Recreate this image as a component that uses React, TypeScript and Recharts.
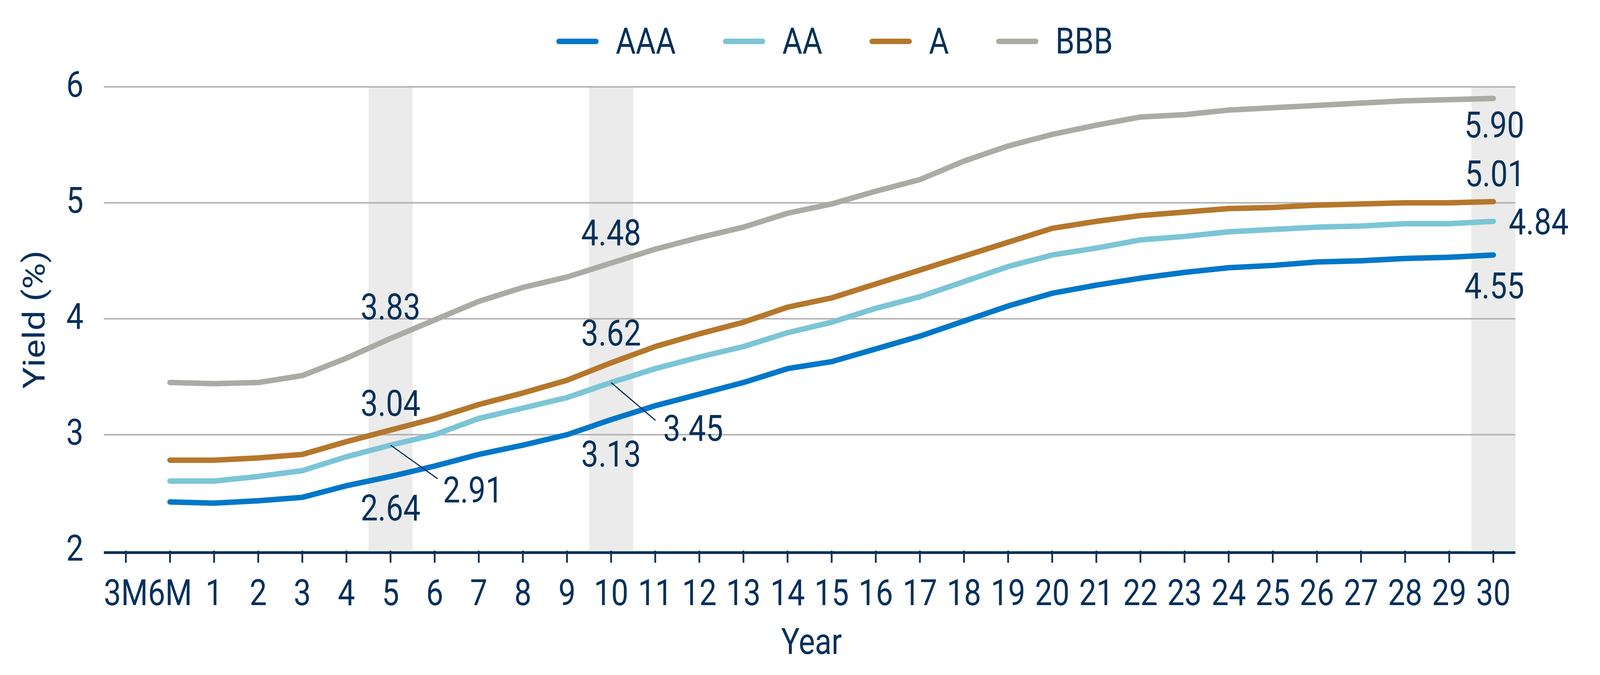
import React from 'react';
import {
  ComposedChart,
  Line,
  Bar,
  XAxis,
  YAxis,
  ReferenceLine,
  Legend,
  LabelList,
} from 'recharts';

// ---------- data ----------
const categories = ['3M', '6M', '1', '2', '3', '4', '5', '6', '7', '8', '9', '10', '11', '12', '13', '14', '15', '16', '17', '18', '19', '20', '21', '22', '23', '24', '25', '26', '27', '28', '29', '30'];

const aaa = [null, 2.42, 2.41, 2.43, 2.46, 2.56, 2.64, 2.73, 2.83, 2.91, 3.0, 3.13, 3.25, 3.35, 3.45, 3.57, 3.63, 3.74, 3.85, 3.98, 4.11, 4.22, 4.29, 4.35, 4.4, 4.44, 4.46, 4.49, 4.5, 4.52, 4.53, 4.55];
const aa = [null, 2.6, 2.6, 2.64, 2.69, 2.81, 2.91, 3.0, 3.14, 3.23, 3.32, 3.45, 3.57, 3.67, 3.76, 3.88, 3.97, 4.09, 4.19, 4.32, 4.45, 4.55, 4.61, 4.68, 4.71, 4.75, 4.77, 4.79, 4.8, 4.82, 4.82, 4.84];
const a = [null, 2.78, 2.78, 2.8, 2.83, 2.94, 3.04, 3.14, 3.26, 3.36, 3.47, 3.62, 3.76, 3.87, 3.97, 4.1, 4.18, 4.3, 4.42, 4.54, 4.66, 4.78, 4.84, 4.89, 4.92, 4.95, 4.96, 4.98, 4.99, 5.0, 5.0, 5.01];
const bbb = [null, 3.45, 3.44, 3.45, 3.51, 3.66, 3.83, 3.99, 4.15, 4.27, 4.36, 4.48, 4.6, 4.7, 4.79, 4.91, 4.99, 5.1, 5.2, 5.36, 5.49, 5.59, 5.67, 5.74, 5.76, 5.8, 5.82, 5.84, 5.86, 5.88, 5.89, 5.9];

const highlightedYears = ['5', '10', '30'];
const yTicks = [2, 3, 4, 5, 6];
const gridValues = [3, 4, 5, 6];
const yDomain: [number, number] = [2, 6];

const seriesNames = ['AAA', 'AA', 'A', 'BBB'];
const seriesValues = [aaa, aa, a, bbb];

// ---------- styles ----------
const NAVY = '#06305a';
const FONT = 'Roboto, "Noto Sans", sans-serif';
const FS = 92;
const SX = 4096 / 4792; // horizontal compression so the 4792-wide design fits the 4096 viewport
const colors: Record<string, string> = {
  AAA: '#0077c8',
  AA: '#7bc5d6',
  A: '#b5772b',
  BBB: '#aaaba4',
};

const data = categories.map((cat, i) => {
  const row: Record<string, any> = { cat };
  seriesNames.forEach((name, s) => {
    row[name] = seriesValues[s][i];
  });
  row.shade = highlightedYears.includes(cat) ? yDomain[1] : null;
  return row;
});

let measureCtx: CanvasRenderingContext2D | null = null;
const measureText = (t: string) => {
  try {
    if (!measureCtx) measureCtx = document.createElement('canvas').getContext('2d');
    if (measureCtx) {
      measureCtx.font = `${FS}px Roboto`;
      return measureCtx.measureText(t).width;
    }
  } catch (e) {
    /* ignore */
  }
  return t.length * 58;
};

// horizontally-condensed svg text
const SText = ({ x, y, anchor = 'middle', children }: any) => (
  <text
    transform={`translate(${x} ${y}) scale(${SX} 1)`}
    x={0}
    y={0}
    textAnchor={anchor}
    fill={NAVY}
    fontSize={FS}
    fontFamily={FONT}
  >
    {children}
  </text>
);

// label placement relative to the data point (reference px)
type LabelCfg = { dx: number; dy: number; anchor: 'start' | 'middle' | 'end'; leader?: [number, number] };
const labelCfg: Record<string, Record<string, LabelCfg>> = {
  BBB: {
    '5': { dx: 0, dy: -49, anchor: 'middle' },
    '10': { dx: 0, dy: -46, anchor: 'middle' },
    '30': { dx: 3, dy: 100, anchor: 'middle' },
  },
  A: {
    '5': { dx: 0, dy: -37, anchor: 'middle' },
    '10': { dx: 0, dy: -44, anchor: 'middle' },
    '30': { dx: 5, dy: -40, anchor: 'middle' },
  },
  AA: {
    '5': { dx: 157, dy: 147, anchor: 'start', leader: [141, 86] },
    '10': { dx: 156, dy: 149, anchor: 'start', leader: [133, 97] },
    '30': { dx: 46, dy: 33, anchor: 'start' },
  },
  AAA: {
    '5': { dx: 0, dy: 113, anchor: 'middle' },
    '10': { dx: 0, dy: 120, anchor: 'middle' },
    '30': { dx: 3, dy: 111, anchor: 'middle' },
  },
};

const makeLabel = (series: string) => (props: any) => {
  const { x, y, value, index } = props;
  const cat = categories[index];
  const cfg = labelCfg[series][cat];
  if (!cfg || value == null) return null;
  return (
    <g>
      {cfg.leader && (
        <line x1={x} y1={y} x2={x + cfg.leader[0] * SX} y2={y + cfg.leader[1]} stroke={NAVY} strokeWidth={3} />
      )}
      <SText x={x + cfg.dx * SX} y={y + cfg.dy} anchor={cfg.anchor}>
        {Number(value).toFixed(2)}
      </SText>
    </g>
  );
};

const LegendContent = () => {
  let cursor = 0;
  const items = seriesNames.map((name, i) => {
    if (i > 0) cursor += 141 * SX;
    const swStart = cursor;
    const swEnd = swStart + 127 * SX;
    const textX = swEnd + 51 * SX;
    const w = measureText(name) * SX;
    cursor = textX + w;
    return (
      <g key={name}>
        <line x1={swStart + 7} y1={50} x2={swEnd - 7} y2={50} stroke={colors[name]} strokeWidth={14} strokeLinecap="round" />
        <SText x={textX} y={81} anchor="start">
          {name}
        </SText>
      </g>
    );
  });
  return (
    <svg width={1700} height={92} style={{ display: 'block', overflow: 'visible' }}>
      {items}
    </svg>
  );
};

const XTick = (props: any) => {
  const { x, y, payload } = props;
  return (
    <SText x={x} y={y + 68} anchor="middle">
      {payload.value}
    </SText>
  );
};

const YTick = (props: any) => {
  const { x, y, payload } = props;
  return (
    <SText x={x} y={y + 25} anchor="end">
      {payload.value}
    </SText>
  );
};

const XLabel = (props: any) => {
  const vb = props.viewBox || {};
  return (
    <SText x={vb.x + vb.width / 2 + 5} y={vb.y + 264} anchor="middle">
      Year
    </SText>
  );
};

const YLabel = (props: any) => {
  const vb = props.viewBox || {};
  const cx = 106;
  const cy = vb.y + vb.height / 2 + 2;
  return (
    <text
      transform={`translate(${cx} ${cy}) scale(${SX} 1) rotate(-90)`}
      x={0}
      y={0}
      textAnchor="middle"
      fill={NAVY}
      fontSize={FS}
      fontFamily={FONT}
    >
      Yield (%)
    </text>
  );
};

export default function App() {
  return (
    <div style={{ width: 4080, height: 1713, background: '#fff' }}>
      <ComposedChart
        width={4080}
        height={1713}
        data={data}
        margin={{ top: 214.5, right: 208.6, left: 0, bottom: 110.5 }}
        barCategoryGap={0}
        barGap={0}
      >
        <XAxis
          dataKey="cat"
          interval={0}
          height={200}
          tickSize={31}
          tickMargin={40}
          axisLine={{ stroke: NAVY, strokeWidth: 7, transform: 'translate(0 5)' }}
          tickLine={{ stroke: NAVY, strokeWidth: 4.5 }}
          tick={XTick}
          label={XLabel}
        />
        <YAxis
          type="number"
          domain={yDomain}
          ticks={yTicks}
          width={257.8}
          axisLine={false}
          tickLine={false}
          tickSize={0}
          tickMargin={52}
          tick={YTick}
          label={YLabel}
        />
        <Bar dataKey="shade" fill="#ebebeb" isAnimationActive={false} legendType="none" />
        {gridValues.map((v) => (
          <ReferenceLine key={v} y={v} stroke="#b3b3b3" strokeWidth={4} />
        ))}
        <Legend
          verticalAlign="middle"
          align="center"
          layout="horizontal"
          content={LegendContent}
          wrapperStyle={{ top: 48, left: 1416, width: 1700 }}
        />
        {seriesNames.map((name) => (
          <Line
            key={name}
            dataKey={name}
            type="linear"
            stroke={colors[name]}
            strokeWidth={14}
            strokeLinecap="round"
            strokeLinejoin="round"
            dot={false}
            activeDot={false}
            isAnimationActive={false}
          >
            <LabelList dataKey={name} content={makeLabel(name)} />
          </Line>
        ))}
      </ComposedChart>
    </div>
  );
}
